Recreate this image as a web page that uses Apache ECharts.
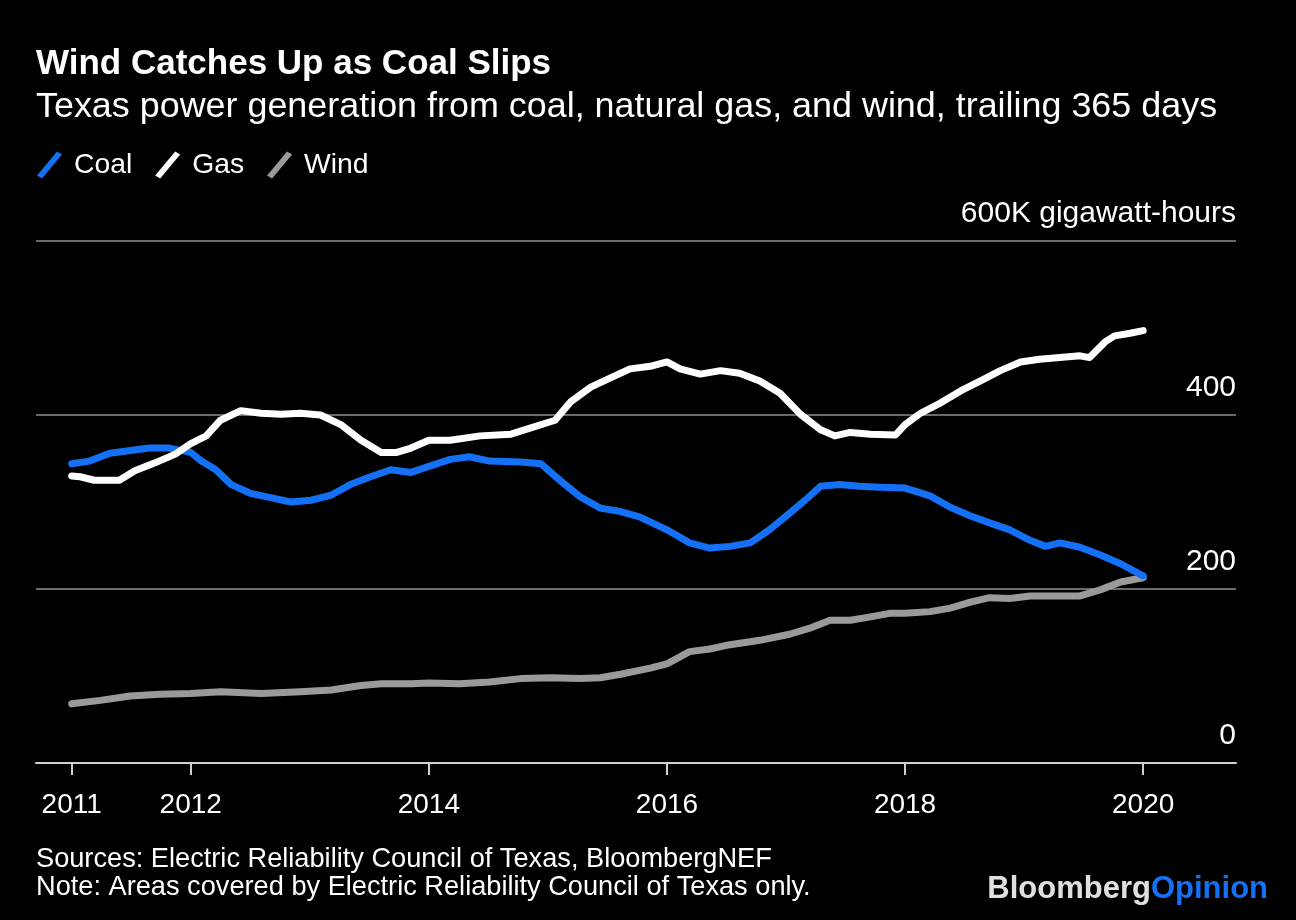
<!DOCTYPE html>
<html>
<head>
<meta charset="utf-8">
<script src="https://cdn.jsdelivr.net/npm/echarts@6/dist/echarts.min.js"></script>
<style>html,body{margin:0;padding:0;background:#000;}#c{width:1296px;height:920px;}</style>
</head>
<body>
<div id="c"></div>
<script>
// ---- data (decimal years, thousand GWh) ----
var xTicks = [2011, 2012, 2014, 2016, 2018, 2020];
var yTicks = [0, 200, 400, 600];

var coalYears = [2011.0,2011.15,2011.32,2011.48,2011.65,2011.82,2012.0,2012.08,2012.21,2012.34,2012.5,2012.67,2012.84,2013.01,2013.18,2013.34,2013.51,2013.68,2013.85,2014.0,2014.18,2014.34,2014.51,2014.77,2014.94,2015.1,2015.27,2015.44,2015.61,2015.77,2016.0,2016.19,2016.36,2016.53,2016.7,2016.86,2017.03,2017.16,2017.29,2017.45,2017.62,2017.79,2018.0,2018.21,2018.38,2018.55,2018.71,2018.88,2019.05,2019.18,2019.3,2019.47,2019.64,2019.81,2020.0];
var coalValues = [344,347,356,359,362,362,357,348,337,320,310,305,300,302,308,320,329,337,334,341,349,352,347,346,344,325,306,293,289,283,268,253,247,249,253,268,287,302,318,320,318,317,316,307,294,284,276,268,256,249,253,248,239,229,215];

var gasYears = [2011.0,2011.07,2011.19,2011.4,2011.53,2011.7,2011.87,2012.0,2012.13,2012.25,2012.42,2012.59,2012.76,2012.92,2013.09,2013.26,2013.43,2013.6,2013.73,2013.85,2014.0,2014.18,2014.43,2014.69,2014.85,2015.06,2015.19,2015.36,2015.53,2015.69,2015.86,2016.0,2016.11,2016.28,2016.45,2016.61,2016.78,2016.95,2017.12,2017.29,2017.41,2017.54,2017.71,2017.92,2018.0,2018.13,2018.3,2018.47,2018.63,2018.8,2018.97,2019.13,2019.3,2019.47,2019.55,2019.68,2019.76,2019.89,2020.0];
var gasValues = [330,329,325,325,336,345,355,367,376,394,405,402,401,402,400,389,371,357,357,362,371,371,376,378,385,394,415,432,443,453,456,461,453,447,451,448,439,425,401,383,376,380,378,377,389,402,414,428,439,451,461,464,466,468,466,484,491,494,497];

var windYears = [2011.0,2011.24,2011.49,2011.74,2012.0,2012.25,2012.59,2012.92,2013.18,2013.43,2013.6,2013.85,2014.0,2014.26,2014.51,2014.77,2015.02,2015.27,2015.44,2015.61,2015.86,2016.0,2016.19,2016.36,2016.53,2016.78,2017.03,2017.2,2017.37,2017.54,2017.71,2017.87,2018.0,2018.21,2018.38,2018.55,2018.71,2018.88,2019.05,2019.3,2019.47,2019.64,2019.81,2020.0];
var windValues = [68,72,77,79,80,82,80,82,84,89,91,91,92,91,93,97,98,97,98,102,109,114,128,131,136,141,148,155,164,164,168,172,172,174,178,185,190,189,192,192,192,199,208,213];

function pairs(xs, ys) { return xs.map(function (x, i) { return [x, ys[i]]; }); }

var FONT = '"Liberation Sans", Arial, sans-serif';
var BLUE = '#1470f5';
var chart = echarts.init(document.getElementById('c'));
var legendIcon = 'path://M0,24 L5,27 L25,3 L20,0 Z';

chart.setOption({
  backgroundColor: '#000',
  animation: false,
  textStyle: { fontFamily: FONT },
  title: [
    { text: 'Wind Catches Up as Coal Slips', left: 31, top: 41, padding: 5,
      textStyle: { color: '#fff', fontSize: 35, fontWeight: 'bold', fontFamily: FONT, lineHeight: 36 } },
    { text: 'Texas power generation from coal, natural gas, and wind, trailing 365 days', left: 31, top: 84, padding: 5,
      textStyle: { color: '#fff', fontSize: 35.9, fontWeight: 'normal', fontFamily: FONT, lineHeight: 36 } }
  ],
  legend: {
    left: 32, top: 146, itemWidth: 25, itemHeight: 27, itemGap: 23,
    icon: legendIcon,
    textStyle: { color: '#fff', fontSize: 28.3, fontFamily: FONT, padding: [0, 0, 0, 7] },
    data: ['Coal', 'Gas', 'Wind']
  },
  grid: { left: 36, right: 60, top: 241, bottom: 157, containLabel: false },
  xAxis: {
    type: 'value', min: 2010.7, max: 2020.78,
    axisLine: { show: true, lineStyle: { color: '#d0d0d0', width: 2 } },
    axisTick: { show: true, customValues: xTicks, length: 12, lineStyle: { color: '#d0d0d0', width: 2 } },
    axisLabel: { customValues: xTicks, color: '#fff', fontSize: 28, margin: 28, fontFamily: FONT,
      formatter: function (v) { return String(Math.round(v)); } },
    splitLine: { show: false }
  },
  yAxis: {
    type: 'value', position: 'right', min: 0, max: 600, interval: 200,
    axisLine: { show: false }, axisTick: { show: false },
    axisLabel: { inside: true, color: '#fff', fontSize: 30, fontFamily: FONT, margin: 0,
      verticalAlign: 'bottom', padding: [0, 0, 12, 0],
      formatter: function (v) { return v === 600 ? '600K gigawatt-hours' : String(v); } },
    splitLine: { show: true, lineStyle: { color: '#6a6a6a', width: 2 } }
  },
  series: [
    { name: 'Coal', type: 'line', data: pairs(coalYears, coalValues), showSymbol: false, symbol: 'none',
      lineStyle: { color: BLUE, width: 7, cap: 'round', join: 'round' }, itemStyle: { color: BLUE }, z: 3 },
    { name: 'Gas', type: 'line', data: pairs(gasYears, gasValues), showSymbol: false, symbol: 'none',
      lineStyle: { color: '#ffffff', width: 7, cap: 'round', join: 'round' }, itemStyle: { color: '#ffffff' }, z: 4 },
    { name: 'Wind', type: 'line', data: pairs(windYears, windValues), showSymbol: false, symbol: 'none',
      lineStyle: { color: '#9a9a9a', width: 7, cap: 'round', join: 'round' }, itemStyle: { color: '#9a9a9a' }, z: 2 }
  ],
  graphic: [
    { type: 'text', left: 36, top: 846, style: { text: 'Sources: Electric Reliability Council of Texas, BloombergNEF', fill: '#fff', font: '27.2px ' + FONT } },
    { type: 'text', left: 36, top: 874, style: { text: 'Note: Areas covered by Electric Reliability Council of Texas only.', fill: '#fff', font: '27.2px ' + FONT } },
    { type: 'text', right: 28, top: 874, style: {
        text: '{a|Bloomberg}{b|Opinion}',
        rich: {
          a: { fill: '#e0e0e0', font: 'bold 31px ' + FONT },
          b: { fill: BLUE, font: 'bold 31px ' + FONT }
        } } }
  ]
});
</script>
</body>
</html>
